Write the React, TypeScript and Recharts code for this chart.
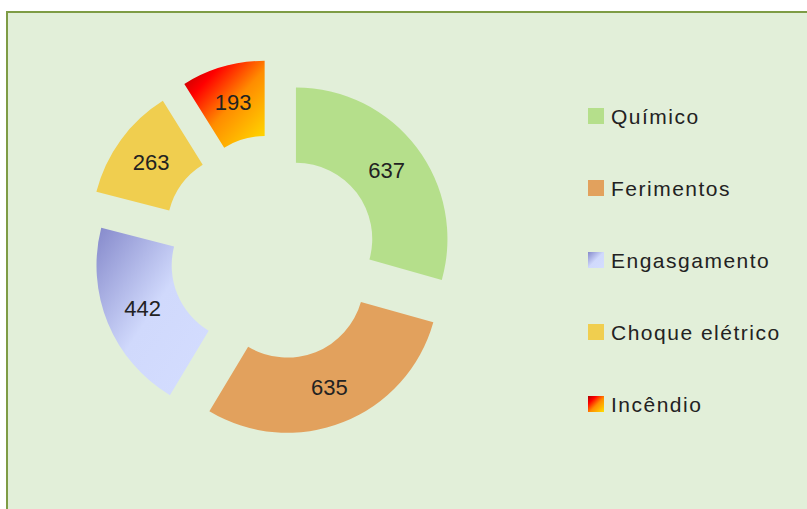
import React from "react";
import { PieChart, Pie, Cell } from "recharts";

const categories = ["Químico", "Ferimentos", "Engasgamento", "Choque elétrico", "Incêndio"];
const values = [637, 635, 442, 263, 193];

// style constants
const fills = ["#B5DF8B", "#E2A15D", "url(#gradEng)", "#F0CE4F", "url(#gradFire)"];
const explode = [24.4, 29.7, 30.8, 41.3, 43];
const MARGIN = 5;
const CX = 276.5 - MARGIN;
const CY = 253.7 - MARGIN;
const INNER = 76.3;
const OUTER = 151.5;
const FONT = "'Liberation Sans', Arial, sans-serif";
const TEXT = "#222222";

const data = categories.map((name, i) => ({ name, value: values[i] }));
const total = values.reduce((a, b) => a + b, 0);

function offsetFor(i: number) {
  let cum = 0;
  for (let k = 0; k < i; k++) cum += values[k];
  const frac = (cum + values[i] / 2) / total;
  const ang = ((90 - 360 * frac) * Math.PI) / 180;
  return { dx: explode[i] * Math.cos(ang), dy: -explode[i] * Math.sin(ang) };
}

const RAD = Math.PI / 180;

function makeLabel(target: number) {
  return (p: any) => {
    if (p.index !== target) return null;
    const r = (p.innerRadius + p.outerRadius) / 2;
    const x = p.cx + r * Math.cos(-p.midAngle * RAD);
    const y = p.cy + r * Math.sin(-p.midAngle * RAD);
    return (
      <text
        x={x}
        y={y}
        textAnchor="middle"
        dominantBaseline="central"
        fill={TEXT}
        fontSize={22}
        fontFamily={FONT}
      >
        {p.value}
      </text>
    );
  };
}

export default function App() {
  return (
    <div style={{ position: "fixed", left: 0, top: 0, width: 807, height: 509, background: "#fff", overflow: "hidden" }}>
      <div
        style={{
          position: "absolute",
          left: 6,
          top: 11,
          width: 840,
          height: 540,
          border: "2px solid #7E9C45",
          background: "#E2EFD9",
          boxSizing: "border-box",
        }}
      />
      <div style={{ position: "absolute", left: 0, top: 0 }}>
        <PieChart width={807} height={509} margin={{ top: MARGIN, right: MARGIN, bottom: MARGIN, left: MARGIN }}>
          <defs>
            <linearGradient id="gradEng" x1="0" y1="0" x2="1" y2="1">
              <stop offset="0" stopColor="#8589CB" />
              <stop offset="0.5" stopColor="#D0D9FC" />
              <stop offset="1" stopColor="#D4DDFF" />
            </linearGradient>
            <linearGradient id="gradFire" x1="0" y1="0" x2="1" y2="1">
              <stop offset="0" stopColor="#A80000" />
              <stop offset="0.25" stopColor="#FF0000" />
              <stop offset="0.55" stopColor="#FF8C00" />
              <stop offset="1" stopColor="#FFE100" />
            </linearGradient>
          </defs>
          {categories.map((_, i) => {
            const { dx, dy } = offsetFor(i);
            return (
              <Pie
                key={i}
                data={data}
                dataKey="value"
                nameKey="name"
                cx={CX + dx}
                cy={CY + dy}
                innerRadius={INNER}
                outerRadius={OUTER}
                startAngle={90}
                endAngle={-270}
                stroke="none"
                isAnimationActive={false}
                labelLine={false}
                label={makeLabel(i)}
                legendType="none"
              >
                {data.map((_, j) => (
                  <Cell key={j} fill={j === i ? fills[j] : "transparent"} stroke="none" />
                ))}
              </Pie>
            );
          })}
        </PieChart>
      </div>
      <svg style={{ position: "absolute", left: 0, top: 0 }} width={807} height={509}>
        <defs>
          <linearGradient id="lgEng" x1="0" y1="0" x2="1" y2="1">
            <stop offset="0" stopColor="#8589CB" />
            <stop offset="0.5" stopColor="#D0D9FC" />
            <stop offset="1" stopColor="#D4DDFF" />
          </linearGradient>
          <linearGradient id="lgFire" x1="0" y1="0" x2="1" y2="1">
            <stop offset="0" stopColor="#A80000" />
            <stop offset="0.25" stopColor="#FF0000" />
            <stop offset="0.55" stopColor="#FF8C00" />
            <stop offset="1" stopColor="#FFE100" />
          </linearGradient>
        </defs>
        {categories.map((name, i) => {
          const y = 116 + i * 72;
          const f = fills[i] === "url(#gradEng)" ? "url(#lgEng)" : fills[i] === "url(#gradFire)" ? "url(#lgFire)" : fills[i];
          return (
            <g key={name}>
              <rect x={588} y={y - 8} width={16} height={16} fill={f} />
              <text x={611} y={y} dominantBaseline="central" fill={TEXT} fontSize={21} letterSpacing={1.5} fontFamily={FONT}>
                {name}
              </text>
            </g>
          );
        })}
      </svg>
    </div>
  );
}
